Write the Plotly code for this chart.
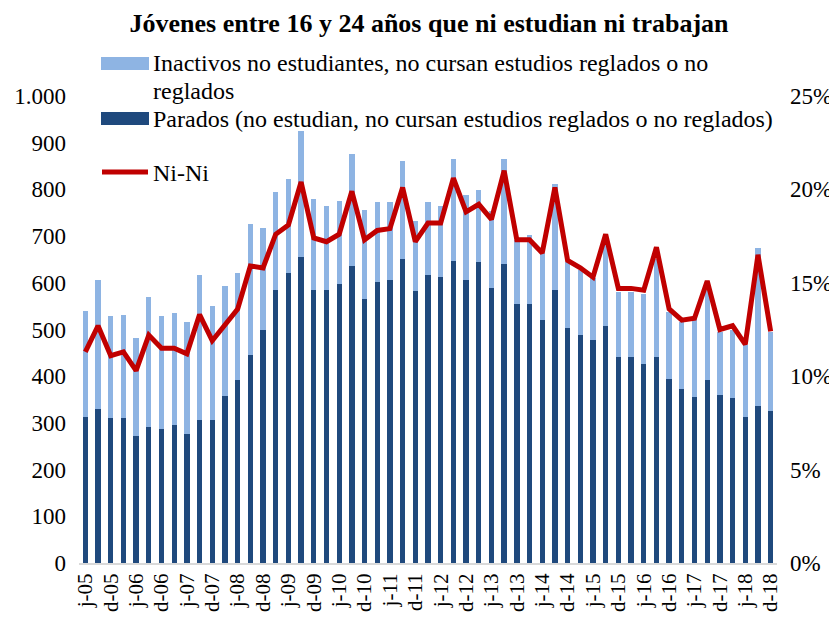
import plotly.graph_objects as go

# ---------------- data ----------------
quarters = []
for yr in range(2005, 2019):
    for q in ["I", "II", "III", "IV"]:
        if yr == 2005 and q == "I":
            continue
        quarters.append(f"{q}-{str(yr)[2:]}")

tick_vals = [q for q in quarters if q.startswith("II-") or q.startswith("IV-")]
tick_text = [("j-" if q.startswith("II-") else "d-") + q.split("-")[1] for q in tick_vals]

parados = [313, 330, 311, 311, 272, 291, 288, 295, 276, 307, 307, 357, 392, 445, 500,
           585, 621, 655, 585, 585, 597, 637, 566, 601, 605, 652, 582, 617, 612, 647,
           605, 644, 589, 640, 555, 555, 520, 585, 503, 488, 477, 507, 441, 441, 426,
           442, 395, 373, 356, 392, 360, 353, 313, 336, 325]

totales = [540, 606, 528, 532, 481, 570, 528, 535, 517, 617, 551, 594, 621, 726, 718,
           795, 822, 924, 779, 764, 776, 876, 756, 772, 772, 861, 733, 772, 764, 866,
           788, 799, 754, 866, 692, 702, 663, 811, 645, 627, 610, 682, 581, 581, 577,
           652, 538, 517, 524, 588, 495, 499, 467, 675, 495]

inactivos = [t - p for t, p in zip(totales, parados)]

nini_pct = [11.3, 12.7, 11.1, 11.3, 10.3, 12.2, 11.5, 11.5, 11.2, 13.3, 11.9, 12.8, 13.6, 15.9, 15.8,
            17.6, 18.1, 20.4, 17.4, 17.2, 17.6, 19.9, 17.3, 17.8, 17.9, 20.1, 17.2, 18.2, 18.2, 20.6,
            18.8, 19.2, 18.4, 21.0, 17.3, 17.3, 16.6, 20.1, 16.2, 15.8, 15.3, 17.6, 14.7, 14.7, 14.6,
            16.9, 13.6, 13.0, 13.1, 15.1, 12.5, 12.7, 11.7, 16.5, 12.4]

left_ticks = [0, 100, 200, 300, 400, 500, 600, 700, 800, 900, 1000]
right_ticks = [0, 5, 10, 15, 20, 25]
right_tick_text = ["0%", "5%", "10%", "15%", "20%", "25%"]

name_inact = "Inactivos no estudiantes, no cursan estudios reglados o no"
name_inact2 = "reglados"
name_par = "Parados (no estudian, no cursan estudios reglados o no reglados)"
name_nini = "Ni-Ni"
title_txt = "Jóvenes entre 16 y 24 años que ni estudian ni trabajan"

# ---------------- style ----------------
C_LIGHT = "#8EB4E3"
C_DARK = "#1F497D"
C_RED = "#C00000"
FONT = "Liberation Serif"

OFF = 8  # page body margin
W, H = 837 - OFF, 619 - OFF
ML, MT = 79 - OFF, 96 - OFF
MR = W - (777 - OFF)
MB = H - (563 - OFF)
PW, PH = W - ML - MR, H - MT - MB

def px(x):  # reference-page x pixel -> paper
    return (x - OFF - ML) / PW

def py(y):  # reference-page y pixel -> paper
    return (H - MB - (y - OFF)) / PH

fig = go.Figure()
fig.add_trace(go.Bar(x=quarters, y=parados, name=name_par, marker_color=C_DARK,
                     marker_line_width=0, showlegend=False))
fig.add_trace(go.Bar(x=quarters, y=inactivos, name=name_inact, marker_color=C_LIGHT,
                     marker_line_width=0, showlegend=False))
fig.add_trace(go.Scatter(x=quarters, y=nini_pct, name=name_nini, mode="lines",
                         line=dict(color=C_RED, width=5), yaxis="y2", showlegend=False))

fig.update_layout(
    width=W, height=H,
    margin=dict(l=ML, r=MR, t=MT, b=MB, autoexpand=False),
    paper_bgcolor="white", plot_bgcolor="white",
    barmode="stack", bargap=0.58,
    separators=",.",
    font=dict(family=FONT, size=23, color="black"),
    title=dict(text="<b>" + title_txt + "</b>", x=(429 - OFF) / W, xanchor="center",
               xref="container", yref="container",
               y=1 - (23 - OFF) / H, yanchor="middle", font=dict(family=FONT, size=26)),
    xaxis=dict(type="category", categoryorder="array", categoryarray=quarters,
               tickmode="array", tickvals=tick_vals, ticktext=tick_text,
               tickangle=-90, tickfont=dict(family=FONT, size=21), showgrid=False,
               showline=True, linecolor="#D9D9D9", linewidth=2, ticks="",
               range=[-0.5, len(quarters) - 0.5]),
    yaxis=dict(range=[0, 1000], tickmode="array", tickvals=left_ticks, tickformat=",d",
               separatethousands=True, showgrid=False, zeroline=False,
               showline=False, ticks="", ticklabelstandoff=12,
               tickfont=dict(family=FONT, size=23)),
    yaxis2=dict(range=[0, 25], tickmode="array", tickvals=right_ticks,
                ticktext=right_tick_text, overlaying="y",
                side="right", showgrid=False, zeroline=False, showline=False,
                ticks="", ticklabelstandoff=12, tickfont=dict(family=FONT, size=23)),
)

# ---------------- manual legend ----------------
shapes = [
    dict(type="rect", xref="paper", yref="paper", x0=px(101), x1=px(149),
         y0=py(70), y1=py(57), fillcolor=C_LIGHT, line_width=0),
    dict(type="rect", xref="paper", yref="paper", x0=px(101), x1=px(149),
         y0=py(125), y1=py(112), fillcolor=C_DARK, line_width=0),
    dict(type="line", xref="paper", yref="paper", x0=px(102), x1=px(148),
         y0=py(172), y1=py(172), line=dict(color=C_RED, width=5)),
]
for s in shapes:
    fig.add_shape(**s)

leg = [(name_inact, 63), (name_inact2, 91), (name_par, 119), (name_nini, 173)]
for txt, yy in leg:
    fig.add_annotation(text=txt, xref="paper", yref="paper", x=px(151), y=py(yy),
                       xanchor="left", yanchor="middle", showarrow=False,
                       font=dict(family=FONT, size=24, color="black"))

fig.write_html("out.html")
